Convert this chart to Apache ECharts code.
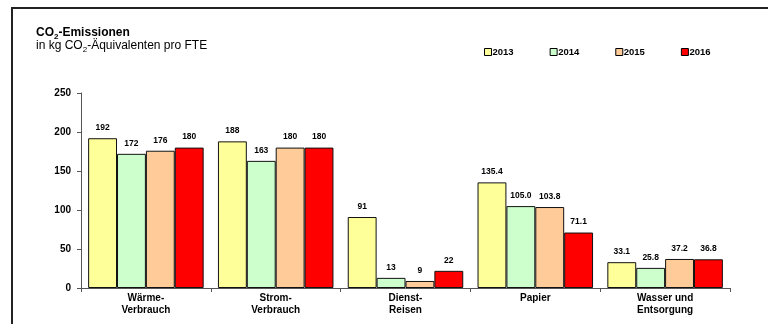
<!DOCTYPE html>
<html><head><meta charset="utf-8">
<script src="https://cdn.jsdelivr.net/npm/echarts@6/dist/echarts.min.js"></script>
<style>html,body{margin:0;padding:0;background:#fff}#c{width:768px;height:324px}</style>
</head><body><div id="c"></div>
<script>
const categories = ['Wärme-\nVerbrauch', 'Strom-\nVerbrauch', 'Dienst-\nReisen', 'Papier', 'Wasser und\nEntsorgung'];
const years = ['2013', '2014', '2015', '2016'];
const v2013 = [192, 188, 91, 135.4, 33.1];
const v2014 = [172, 163, 13, 105.0, 25.8];
const v2015 = [176, 180, 9, 103.8, 37.2];
const v2016 = [180, 180, 22, 71.1, 36.8];
const decimals = [0, 0, 0, 1, 1];
const yTicks = [0, 50, 100, 150, 200, 250];
const colors = ['#FFFF99', '#CCFFCC', '#FFCC99', '#FF0000'];
const seriesValues = [v2013, v2014, v2015, v2016];
const F = 'Liberation Sans, Arial, sans-serif';

const chart = echarts.init(document.getElementById('c'));
chart.setOption({
  animation: false,
  textStyle: { fontFamily: F },
  graphic: [
    { type: 'rect', shape: { x: 12, y: 8, width: 800, height: 400 }, style: { fill: 'none', stroke: '#222', lineWidth: 2 } },
    { type: 'text', left: 36, top: 27, style: {
        text: '{b|CO}{bs|2}{b|-Emissionen}', fontFamily: F,
        rich: { b: { fontSize: 12, fontWeight: 'bold', fill: '#000', fontFamily: F, verticalAlign: 'top' },
                bs: { fontSize: 8, fontWeight: 'bold', fill: '#000', fontFamily: F, padding: [6, 0, 0, 0], verticalAlign: 'top' } } } },
    { type: 'text', left: 36, top: 40, style: {
        text: '{n|in kg CO}{s|2}{n|-Äquivalenten pro FTE}', fontFamily: F,
        rich: { n: { fontSize: 12, fill: '#000', fontFamily: F, verticalAlign: 'top' },
                s: { fontSize: 8, fill: '#000', fontFamily: F, padding: [6, 0, 0, 0], verticalAlign: 'top' } } } }
  ],
  legend: {
    left: 479, top: 42, itemWidth: 7, itemHeight: 7, itemGap: 36,
    icon: 'rect',
    textStyle: { fontSize: 9.5, fontWeight: 'bold', color: '#000', padding: [0, 0, 0, -4], fontFamily: F },
    itemStyle: { borderColor: '#000', borderWidth: 1 },
    data: years
  },
  grid: { left: 81, right: 38, top: 93, bottom: 36 },
  xAxis: {
    type: 'category', data: categories,
    axisLine: { lineStyle: { color: '#555', width: 1 } },
    axisTick: { show: true, length: 4, lineStyle: { color: '#555' } },
    axisLabel: { fontSize: 10, fontWeight: 'bold', color: '#000', margin: 4, lineHeight: 12, fontFamily: F }
  },
  yAxis: {
    type: 'value', min: yTicks[0], max: yTicks[yTicks.length - 1], interval: 50,
    splitLine: { show: false },
    axisLine: { show: true, lineStyle: { color: '#555' } },
    axisTick: { show: true, length: 4, lineStyle: { color: '#555' } },
    axisLabel: { fontSize: 10, fontWeight: 'bold', color: '#000', margin: 10, fontFamily: F }
  },
  series: years.map((y, i) => ({
    name: y, type: 'bar', data: seriesValues[i],
    barGap: '0%', barCategoryGap: '11%',
    itemStyle: { color: colors[i], borderColor: '#111', borderWidth: 1 },
    label: { show: true, position: 'top', distance: 6, fontSize: 8.5, fontWeight: 'bold', color: '#000', fontFamily: F,
      formatter: p => p.value.toFixed(decimals[p.dataIndex]) }
  }))
});
</script></body></html>
